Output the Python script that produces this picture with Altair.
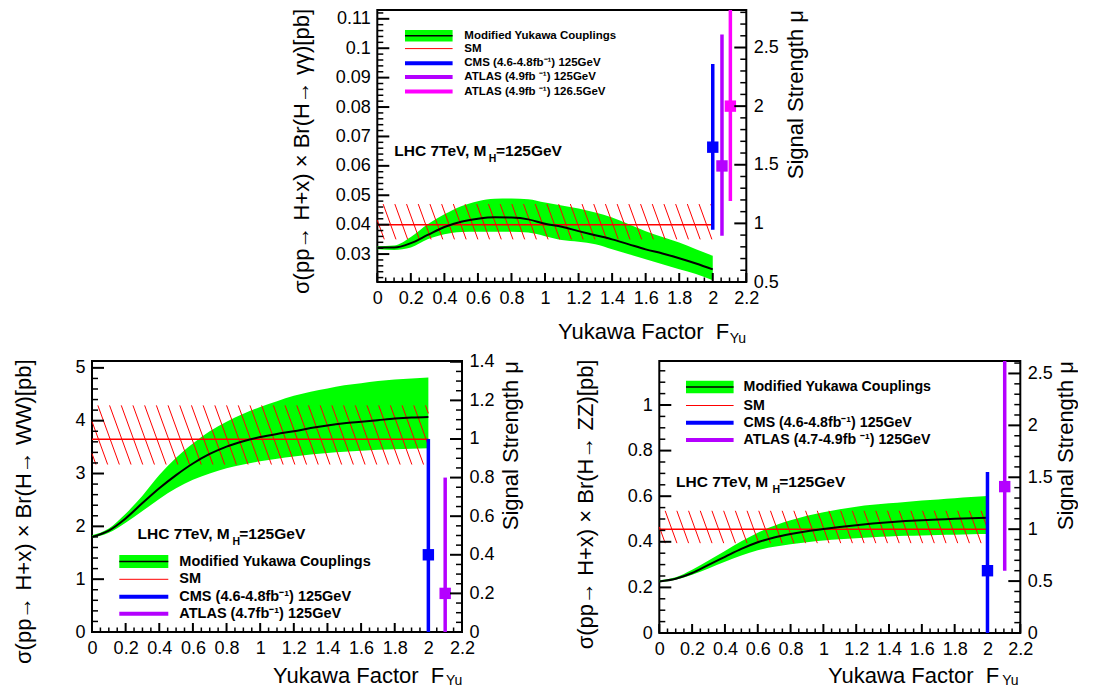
import altair as alt
import pandas as pd

FONT = "Liberation Sans"

# ---------------- values ----------------
f_yu = [0.0, 0.1, 0.2, 0.3, 0.4, 0.5, 0.6, 0.7, 0.8, 0.9, 1.0,
        1.1, 1.2, 1.3, 1.4, 1.5, 1.6, 1.7, 1.8, 1.9, 2.0]

# H -> gamma gamma
gg_central = [0.0322, 0.0322, 0.0337, 0.0365, 0.0392, 0.0410, 0.0420, 0.0425, 0.0424, 0.0418, 0.0403,
              0.0393, 0.0378, 0.0364, 0.0350, 0.0333, 0.0316, 0.0302, 0.0286, 0.0268, 0.0248]
gg_upper = [0.0327, 0.0329, 0.0358, 0.0401, 0.0435, 0.0463, 0.0480, 0.0488, 0.0489, 0.0486, 0.0475,
            0.0465, 0.0455, 0.0441, 0.0424, 0.0401, 0.0378, 0.0358, 0.0339, 0.0316, 0.0294]
gg_lower = [0.0316, 0.0314, 0.0322, 0.0350, 0.0367, 0.0375, 0.0376, 0.0376, 0.0376, 0.0373, 0.0361,
            0.0348, 0.0342, 0.0333, 0.0316, 0.0299, 0.0282, 0.0265, 0.0248, 0.0232, 0.0211]
gg_sm = 0.040
gg_sm_band = [0.035, 0.047]
gg_pt_label = ["CMS (4.6-4.8fb\u207b\u00b9) 125GeV", "ATLAS (4.9fb \u207b\u00b9) 125GeV", "ATLAS (4.9fb \u207b\u00b9) 126.5GeV"]
gg_pt_x = [2.0, 2.055, 2.105]
gg_pt_mu = [1.65, 1.49, 2.0]
gg_pt_lo = [0.945, 0.895, 1.19]
gg_pt_hi = [2.36, 2.61, 2.95]
gg_pt_color = ["#0000ff", "#b400ff", "#ff00ff"]

# H -> WW
ww_central = [1.80, 1.92, 2.15, 2.44, 2.72, 2.97, 3.19, 3.37, 3.51, 3.61, 3.69,
              3.75, 3.80, 3.86, 3.91, 3.95, 3.98, 4.01, 4.04, 4.06, 4.07]
ww_upper = [1.83, 1.96, 2.24, 2.58, 2.97, 3.30, 3.57, 3.80, 3.98, 4.13, 4.26,
            4.37, 4.47, 4.55, 4.61, 4.67, 4.71, 4.75, 4.78, 4.80, 4.82]
ww_lower = [1.78, 1.88, 2.07, 2.29, 2.52, 2.72, 2.88, 3.00, 3.10, 3.17, 3.23,
            3.28, 3.32, 3.36, 3.39, 3.41, 3.43, 3.45, 3.46, 3.47, 3.48]
ww_sm = 3.65
ww_sm_band = [3.17, 4.29]
ww_pt_label = ["CMS (4.6-4.8fb\u207b\u00b9) 125GeV", "ATLAS (4.7fb\u207b\u00b9) 125GeV"]
ww_pt_x = [2.0, 2.1]
ww_pt_mu = [0.40, 0.20]
ww_pt_lo = [0.0, 0.0]
ww_pt_hi = [1.0, 0.8]
ww_pt_color = ["#0000ff", "#b400ff"]

# H -> ZZ
zz_central = [0.226, 0.238, 0.263, 0.299, 0.334, 0.369, 0.398, 0.419, 0.434, 0.446, 0.456,
              0.465, 0.473, 0.480, 0.486, 0.491, 0.495, 0.498, 0.501, 0.503, 0.505]
zz_upper = [0.231, 0.244, 0.277, 0.318, 0.360, 0.402, 0.440, 0.470, 0.494, 0.514, 0.530,
            0.543, 0.554, 0.562, 0.569, 0.575, 0.581, 0.586, 0.591, 0.596, 0.601]
zz_lower = [0.223, 0.234, 0.255, 0.283, 0.312, 0.340, 0.363, 0.378, 0.389, 0.398, 0.406,
            0.411, 0.416, 0.420, 0.423, 0.426, 0.428, 0.430, 0.431, 0.433, 0.434]
zz_sm = 0.455
zz_sm_band = [0.394, 0.536]
zz_pt_label = ["CMS (4.6-4.8fb\u207b\u00b9) 125GeV", "ATLAS (4.7-4.9fb \u207b\u00b9) 125GeV"]
zz_pt_x = [2.0, 2.105]
zz_pt_mu = [0.60, 1.41]
zz_pt_lo = [0.0, 0.60]
zz_pt_hi = [1.55, 2.9]
zz_pt_color = ["#0000ff", "#b400ff"]

# axis tick labels
x_major = [0, 0.2, 0.4, 0.6, 0.8, 1, 1.2, 1.4, 1.6, 1.8, 2, 2.2]
gg_left_major = [0.03, 0.04, 0.05, 0.06, 0.07, 0.08, 0.09, 0.1, 0.11]
gg_right_major = [0.5, 1, 1.5, 2, 2.5]
ww_left_major = [0, 1, 2, 3, 4, 5]
ww_right_major = [0, 0.2, 0.4, 0.6, 0.8, 1, 1.2, 1.4]
zz_left_major = [0, 0.2, 0.4, 0.6, 0.8, 1]
zz_right_major = [0, 0.5, 1, 1.5, 2, 2.5]

ONE = pd.DataFrame({"k": [0]})


def minor_ticks(dom, step, major):
    vals = []
    k = int(dom[0] // step)
    while k * step <= dom[1] + 1e-9:
        v = round(k * step, 6)
        if v >= dom[0] - 1e-9 and all(abs(v - m) > 1e-9 for m in major):
            vals.append(v)
        k += 1
    return vals


def txt(s, x, y, size, **kw):
    return alt.Chart(ONE).mark_text(text=s, fontSize=size, font=FONT, color="black", **kw).encode(
        x=alt.value(x), y=alt.value(y))


def hatch_df(lo, hi, W, H, ydom, x_end=2.0):
    px_per_x = W / 2.2
    dy_px = (hi - lo) / (ydom[1] - ydom[0]) * H
    dx = dy_px / 2.75 / px_per_x
    step = 11.7 / px_per_x
    rows = []
    k = -int(dx / step) - 2
    while True:
        xt = k * step + 0.5 * step
        if xt > x_end:
            break
        t0 = max(0.0, (0.0 - xt) / dx)
        t1 = min(1.0, (x_end - xt) / dx)
        if t0 < t1:
            rows.append({"x0": xt + t0 * dx, "y0": hi + t0 * (lo - hi),
                         "x1": xt + t1 * dx, "y1": hi + t1 * (lo - hi)})
        k += 1
    return pd.DataFrame(rows)


def build_panel(c):
    W, H = c["W"], c["H"]
    xs = alt.Scale(domain=[0, 2.2], nice=False, zero=False)
    ls = alt.Scale(domain=c["ldom"], nice=False, zero=False)
    rs = alt.Scale(domain=c["rdom"], nice=False, zero=False)
    x_axis = alt.Axis(values=x_major, format="~g", labelPadding=7, title=None)
    l_axis = alt.Axis(values=c["lmaj"], format="~g", labelPadding=7, title=None, orient="left")
    r_axis = alt.Axis(values=c["rmaj"], format="~g", labelPadding=7, title=None, orient="right")

    def X(f):
        return alt.X(f, type="quantitative", scale=xs, axis=x_axis)

    def YL(f):
        return alt.Y(f, type="quantitative", scale=ls, axis=l_axis)

    def YR(f):
        return alt.Y(f, type="quantitative", scale=rs, axis=r_axis)

    band_df = pd.DataFrame({"x": f_yu, "c": c["central"], "u": c["upper"], "l": c["lower"]})
    band = alt.Chart(band_df).mark_area(color="#00ff00", opacity=1, interpolate="monotone").encode(
        x=X("x"), y=YL("u"), y2="l")
    central = alt.Chart(band_df).mark_line(color="black", strokeWidth=2, interpolate="monotone").encode(
        x=X("x"), y=YL("c"))
    hatch = alt.Chart(hatch_df(c["smband"][0], c["smband"][1], W, H, c["ldom"])).mark_rule(
        color="#ff0000", strokeWidth=1).encode(x=X("x0"), y=YL("y0"), x2="x1", y2="y1")
    sm = alt.Chart(pd.DataFrame({"x0": [0.0], "x1": [2.0], "y": [c["sm"]]})).mark_rule(
        color="#ff0000", strokeWidth=1.5).encode(x=X("x0"), x2="x1", y=YL("y"))

    def yticks(vals, Yf, xa, xb, sw):
        return alt.Chart(pd.DataFrame({"v": vals})).mark_rule(color="black", strokeWidth=sw).encode(
            y=Yf("v"), x=alt.value(xa), x2=alt.value(xb))

    def xticks(vals, ln, sw):
        return alt.Chart(pd.DataFrame({"v": vals})).mark_rule(color="black", strokeWidth=sw).encode(
            x=X("v"), y=alt.value(H), y2=alt.value(H - ln))

    left_layers = [band, hatch, sm, central,
                   yticks(c["lmaj"], YL, 0, 12, 2), yticks(c["lmin"], YL, 0, 6, 1.5),
                   xticks(x_major, 9, 2), xticks(minor_ticks([0, 2.2], 0.05, x_major), 4.5, 1.5)]

    # legend
    lg = c["legend"]
    rows = lg["rows"]
    fs = lg["fs"]
    left_layers.append(alt.Chart(ONE).mark_rect(color="#00ff00").encode(
        x=alt.value(lg["x0"]), x2=alt.value(lg["x1"]),
        y=alt.value(rows[0] - lg["bh"] / 2), y2=alt.value(rows[0] + lg["bh"] / 2)))
    left_layers.append(alt.Chart(ONE).mark_rule(color="black", strokeWidth=1.5).encode(
        x=alt.value(lg["x0"]), x2=alt.value(lg["x1"]), y=alt.value(rows[0])))
    left_layers.append(txt("Modified Yukawa Couplings", lg["tx"], rows[0], fs,
                           align="left", baseline="middle", fontWeight="bold"))
    left_layers.append(alt.Chart(ONE).mark_rule(color="#ff0000", strokeWidth=1).encode(
        x=alt.value(lg["x0"]), x2=alt.value(lg["x1"]), y=alt.value(rows[1])))
    left_layers.append(txt("SM", lg["tx"], rows[1], fs, align="left", baseline="middle", fontWeight="bold"))
    for i, (lab, col) in enumerate(zip(c["pt_label"], c["pt_color"])):
        r = rows[2 + i]
        left_layers.append(alt.Chart(ONE).mark_rule(color=col, strokeWidth=4).encode(
            x=alt.value(lg["x0"]), x2=alt.value(lg["x1"]), y=alt.value(r)))
        left_layers.append(txt(lab, lg["tx"], r, fs, align="left", baseline="middle", fontWeight="bold"))

    # annotation LHC 7TeV, M_H=125GeV
    an = c["ann"]
    left_layers.append(txt("LHC 7TeV, M", an["x1"], an["y"], 15.5, align="left", fontWeight="bold"))
    left_layers.append(txt("H", an["xh"], an["y"] + 7.5, 10.5, align="left", fontWeight="bold"))
    left_layers.append(txt("=125GeV", an["x3"], an["y"], 15.5, align="left", fontWeight="bold"))

    # axis titles
    t = c["titles"]
    left_layers.append(txt(c["ytitle"], t["lx"], t["ly"], 22, angle=270, align="right", baseline="bottom"))
    left_layers.append(txt("Signal Strength \u03bc", W + t["rx"], 0, 22, angle=270, align="right",
                           baseline="top"))
    left_layers.append(txt("Yukawa Factor\u00a0\u00a0F", t["fx"], t["fy"], 22, align="right"))
    left_layers.append(txt("Yu", t["sx"], t["sy"], 14, align="left"))

    pts = pd.DataFrame({"x": c["pt_x"], "mu": c["pt_mu"], "lo": c["pt_lo"], "hi": c["pt_hi"],
                        "col": c["pt_color"]})
    err = alt.Chart(pts).mark_rule(strokeWidth=3.5, clip=True).encode(
        x=X("x"), y=YR("lo"), y2="hi", color=alt.Color("col:N", scale=None))
    sq = alt.Chart(pts).mark_square(size=130, opacity=1, filled=True).encode(
        x=X("x"), y=YR("mu"), color=alt.Color("col:N", scale=None))
    right_layers = [err, sq,
                    yticks(c["rmaj"], YR, W, W - 12, 2), yticks(c["rmin"], YR, W, W - 6, 1.5)]

    return alt.layer(alt.layer(*left_layers), alt.layer(*right_layers)).resolve_scale(
        y="independent").properties(width=W, height=H)


gg_ldom = [0.0205, 0.113]
gg_rdom = [0.5, 2.82]
ww_ldom = [0.0, 5.13]
ww_rdom = [0.0, 1.404]
zz_ldom = [0.0, 1.193]
zz_rdom = [0.0, 2.62]

top = build_panel(dict(
    W=369, H=272, ldom=gg_ldom, rdom=gg_rdom, lmaj=gg_left_major, rmaj=gg_right_major,
    lmin=minor_ticks(gg_ldom, 0.002, gg_left_major), rmin=minor_ticks(gg_rdom, 0.1, gg_right_major),
    central=gg_central, upper=gg_upper, lower=gg_lower, sm=gg_sm, smband=gg_sm_band,
    pt_label=gg_pt_label, pt_x=gg_pt_x, pt_mu=gg_pt_mu, pt_lo=gg_pt_lo, pt_hi=gg_pt_hi,
    pt_color=gg_pt_color,
    legend=dict(x0=27.7, x1=75.3, tx=87, rows=[25.7, 38.6, 53.3, 66.9, 81.6], fs=11.5, bh=11.5),
    ann=dict(x1=17, xh=111.5, x3=118.7, y=141.3),
    titles=dict(lx=-63, ly=-1, rx=39.7, fx=352, fy=322.3, sx=352.5, sy=329),
    ytitle="\u03c3(pp\u2192 H+x) \u00d7 Br(H\u2192 \u03b3\u03b3)[pb]",
))

bl = build_panel(dict(
    W=370, H=271, ldom=ww_ldom, rdom=ww_rdom, lmaj=ww_left_major, rmaj=ww_right_major,
    lmin=minor_ticks(ww_ldom, 0.2, ww_left_major), rmin=minor_ticks(ww_rdom, 0.05, ww_right_major),
    central=ww_central, upper=ww_upper, lower=ww_lower, sm=ww_sm, smband=ww_sm_band,
    pt_label=ww_pt_label, pt_x=ww_pt_x, pt_mu=ww_pt_mu, pt_lo=ww_pt_lo, pt_hi=ww_pt_hi,
    pt_color=ww_pt_color,
    legend=dict(x0=27.3, x1=76.3, tx=87.3, rows=[200.5, 218.3, 235.7, 252.7], fs=14.5, bh=13),
    ann=dict(x1=45.6, xh=140.6, x3=147.3, y=173.3),
    titles=dict(lx=-55.7, ly=-1.5, rx=39, fx=352.3, fy=314.5, sx=354, sy=319.5),
    ytitle="\u03c3(pp\u2192 H+x) \u00d7 Br(H\u2192 WW)[pb]",
))

br = build_panel(dict(
    W=361, H=272, ldom=zz_ldom, rdom=zz_rdom, lmaj=zz_left_major, rmaj=zz_right_major,
    lmin=minor_ticks(zz_ldom, 0.05, zz_left_major), rmin=minor_ticks(zz_rdom, 0.1, zz_right_major),
    central=zz_central, upper=zz_upper, lower=zz_lower, sm=zz_sm, smband=zz_sm_band,
    pt_label=zz_pt_label, pt_x=zz_pt_x, pt_mu=zz_pt_mu, pt_lo=zz_pt_lo, pt_hi=zz_pt_hi,
    pt_color=zz_pt_color,
    legend=dict(x0=26.7, x1=74.3, tx=84.3, rows=[26, 44.5, 61.7, 79], fs=14.2, bh=12.3),
    ann=dict(x1=16.7, xh=113.3, x3=120, y=121.3),
    titles=dict(lx=-61.7, ly=-1.5, rx=35.7, fx=340, fy=314.5, sx=343, sy=319.5),
    ytitle="\u03c3(pp\u2192 H+x) \u00d7 Br(H\u2192 ZZ)[pb]",
))

spacer = alt.Chart(ONE).mark_point(opacity=0).encode(x=alt.value(0), y=alt.value(0)).properties(
    width=1, height=1, view=alt.ViewConfig(stroke="transparent"))

row1 = alt.hconcat(spacer, top, spacing=284.3, bounds="flush")
row2 = alt.hconcat(bl, br, spacing=197.3, bounds="flush")

chart = alt.vconcat(row1, row2, spacing=4).properties(
    padding={"left": 4, "top": -2, "right": 0, "bottom": 0},
).configure_view(stroke="black", strokeWidth=2).configure_axis(
    labelFont=FONT, labelFontSize=18, labelColor="black", domain=False, ticks=False, tickSize=0,
    grid=False, labelFlush=False, labelOverlap=False,
)

chart.save("out.html", embed_options={"renderer": "svg", "actions": False})
